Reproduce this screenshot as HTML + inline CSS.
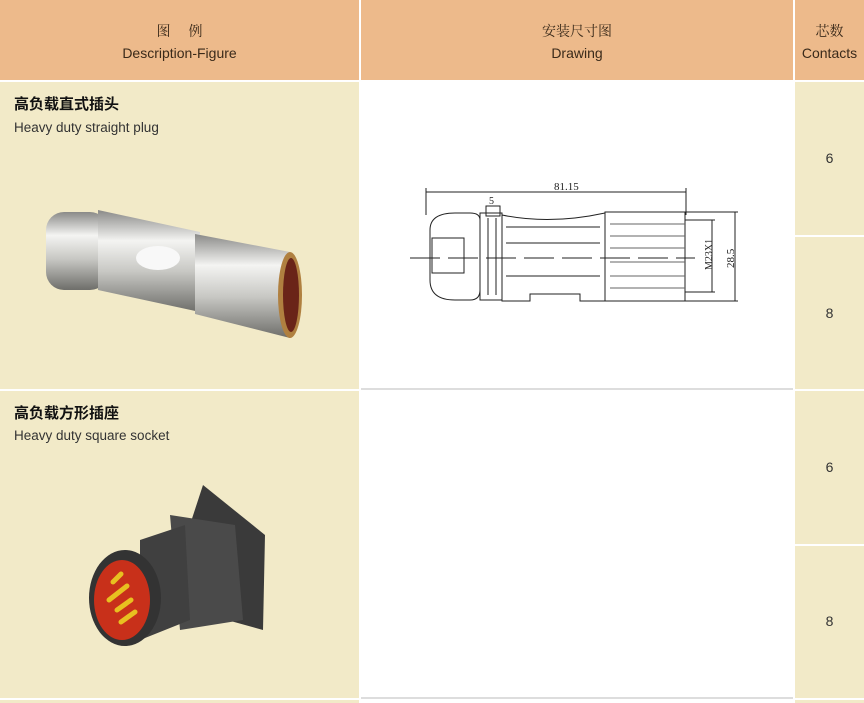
<!DOCTYPE html>
<html><head><meta charset="utf-8"><style>
body{margin:0;width:864px;height:703px;background:#fff;position:relative;overflow:hidden;font-family:"Liberation Sans","Noto Sans CJK SC",sans-serif}
div{position:absolute;box-sizing:border-box}
.h{background:#edba8b;color:#3a2a1a;text-align:center;font-size:14px;line-height:22px}
.y{background:#f2eac8}
.n{font-size:14px;color:#333;text-align:center}
.t{font-weight:bold;font-size:15px;color:#111}
.s{font-size:13.5px;color:#333}
</style></head><body>
<div class="h" style="left:0;top:0;width:359px;height:80px;padding-top:20px"><span style="font-family:'Noto Serif CJK SC',serif">图&nbsp;&nbsp;&nbsp;&nbsp;&nbsp;例</span><br>Description-Figure</div>
<div class="h" style="left:361px;top:0;width:432px;height:80px;padding-top:20px"><span style="font-family:'Noto Serif CJK SC',serif">安装尺寸图</span><br>Drawing</div>
<div class="h" style="left:795px;top:0;width:69px;height:80px;padding-top:20px"><span style="font-family:'Noto Serif CJK SC',serif">芯数</span><br>Contacts</div>

<div class="y" style="left:0;top:82px;width:359px;height:307px"></div>
<div class="t" style="left:14px;top:93px">高负载直式插头</div>
<div class="s" style="left:14px;top:120px">Heavy duty straight plug</div>
<div class="y" style="left:795px;top:82px;width:69px;height:153px"></div>
<div class="y" style="left:795px;top:237px;width:69px;height:152px"></div>
<div class="n" style="left:795px;top:150px;width:69px">6</div>
<div class="n" style="left:795px;top:305px;width:69px">8</div>

<div style="left:361px;top:388px;width:432px;height:2px;background:#ddd"></div>
<div class="y" style="left:0;top:391px;width:359px;height:307px"></div>
<div class="t" style="left:14px;top:402px">高负载方形插座</div>
<div class="s" style="left:14px;top:428px">Heavy duty square socket</div>
<div class="y" style="left:795px;top:391px;width:69px;height:153px"></div>
<div class="y" style="left:795px;top:546px;width:69px;height:152px"></div>
<div class="n" style="left:795px;top:459px;width:69px">6</div>
<div class="n" style="left:795px;top:613px;width:69px">8</div>
<div style="left:361px;top:697px;width:432px;height:2px;background:#ddd"></div>
<div class="y" style="left:0;top:700px;width:359px;height:3px"></div>
<div class="y" style="left:795px;top:700px;width:69px;height:3px"></div>

<!-- plug image -->
<svg style="position:absolute;left:40px;top:200px" width="270" height="150">
<defs><linearGradient id="m" x1="0" y1="0" x2="0" y2="1"><stop offset="0" stop-color="#8a8a88"/><stop offset=".3" stop-color="#f4f4f2"/><stop offset=".6" stop-color="#c8c8c4"/><stop offset="1" stop-color="#6e6e6a"/></linearGradient></defs>
<rect x="6" y="12" width="62" height="78" rx="18" fill="url(#m)"/>
<polygon points="58,10 160,32 160,112 58,90" fill="url(#m)"/>
<polygon points="155,34 250,52 250,138 155,114" fill="url(#m)"/>
<ellipse cx="250" cy="95" rx="12" ry="43" fill="#b08040"/>
<ellipse cx="251" cy="95" rx="8" ry="37" fill="#6a2418"/>
<ellipse cx="118" cy="58" rx="22" ry="12" fill="#f8f8f8"/>
</svg>
<!-- socket image -->
<svg style="position:absolute;left:85px;top:480px" width="190" height="170">
<polygon points="118,5 180,55 178,150 142,140 100,60" fill="#3a3a3a"/>
<polygon points="85,35 150,45 158,140 95,150" fill="#4a4a4a"/>
<polygon points="55,60 100,45 105,140 55,160" fill="#404040"/>
<ellipse cx="40" cy="118" rx="36" ry="48" fill="#333"/>
<ellipse cx="37" cy="120" rx="28" ry="40" fill="#c8301a"/>
<g stroke="#e8c020" stroke-width="5" stroke-linecap="round"><line x1="28" y1="102" x2="36" y2="94"/><line x1="24" y1="120" x2="42" y2="106"/><line x1="32" y1="130" x2="46" y2="120"/><line x1="36" y1="142" x2="50" y2="132"/></g>
</svg>
<!-- drawing -->
<svg style="position:absolute;left:400px;top:170px" width="350" height="140" fill="none" stroke="#222" stroke-width="1">
<text x="154" y="20" font-size="11" fill="#222" stroke="none" font-family="Liberation Serif">81.15</text>
<line x1="26" y1="22" x2="286" y2="22"/><line x1="26" y1="18" x2="26" y2="45"/><line x1="286" y1="18" x2="286" y2="45"/>
<text x="89" y="34" font-size="10" fill="#222" stroke="none" font-family="Liberation Serif">5</text>
<rect x="86" y="36" width="14" height="10"/>
<path d="M55,43 L70,43 Q80,43 80,50 L80,120 Q80,130 70,130 L55,130 Q30,130 30,110 L30,60 Q30,43 55,43Z"/>
<rect x="32" y="68" width="32" height="35"/>
<rect x="80" y="43" width="22" height="87"/>
<line x1="88" y1="48" x2="88" y2="125"/><line x1="96" y1="48" x2="96" y2="125"/>
<path d="M102,45 Q150,55 205,43 L205,131 L180,131 L180,124 L130,124 L130,131 L102,131Z"/>
<line x1="106" y1="57" x2="200" y2="57"/><line x1="106" y1="73" x2="200" y2="73"/><line x1="106" y1="106" x2="200" y2="106"/>
<rect x="205" y="42" width="80" height="89"/>
<g stroke="#666"><line x1="210" y1="54" x2="285" y2="54"/><line x1="210" y1="66" x2="285" y2="66"/><line x1="210" y1="78" x2="285" y2="78"/><line x1="210" y1="92" x2="285" y2="92"/><line x1="210" y1="106" x2="285" y2="106"/><line x1="210" y1="118" x2="285" y2="118"/></g>
<line x1="10" y1="88" x2="295" y2="88" stroke-dasharray="30,8"/>
<line x1="285" y1="50" x2="315" y2="50"/><line x1="285" y1="122" x2="315" y2="122"/><line x1="312" y1="50" x2="312" y2="122"/>
<line x1="285" y1="42" x2="338" y2="42"/><line x1="285" y1="131" x2="338" y2="131"/><line x1="335" y1="42" x2="335" y2="131"/>
<text transform="translate(312,100) rotate(-90)" font-size="10" fill="#222" stroke="none" font-family="Liberation Serif">M23X1</text>
<text transform="translate(334,98) rotate(-90)" font-size="11" fill="#222" stroke="none" font-family="Liberation Serif">28.5</text>
</svg>
</body></html>
